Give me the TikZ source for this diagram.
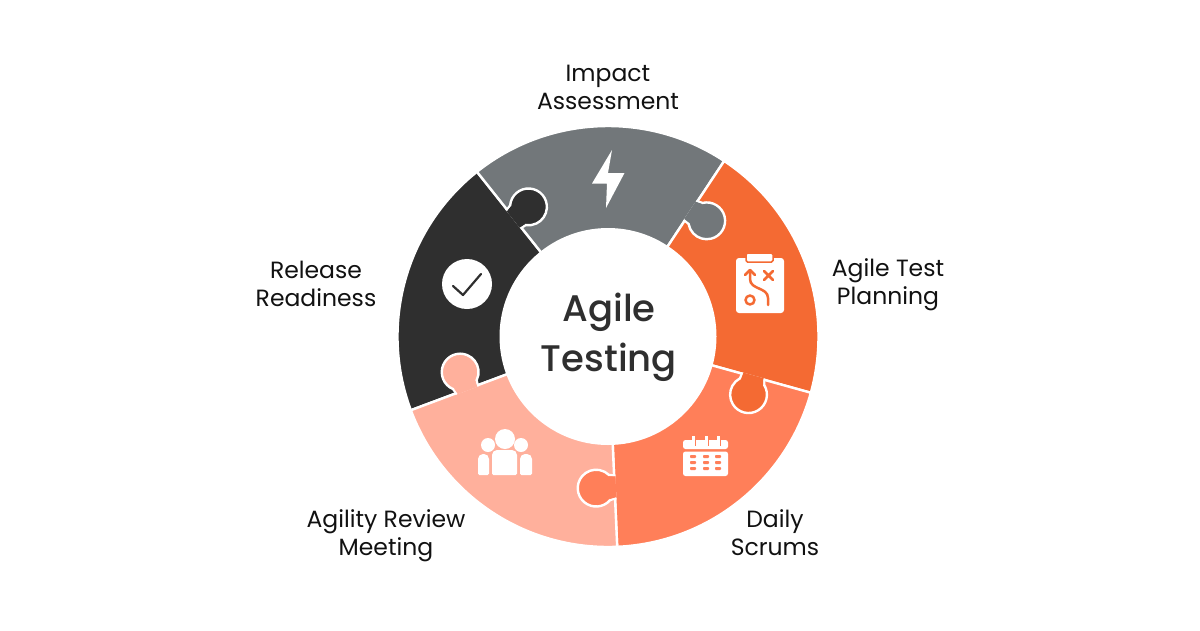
\documentclass[tikz,border=0pt]{standalone}
\usepackage{fontspec}
\setmainfont{Poppins}
\newfontfamily\medfont{Poppins Medium}
\usetikzlibrary{calc}
\definecolor{wheelgray}{HTML}{72777A}
\definecolor{wheelorange}{HTML}{F46A33}
\definecolor{wheelcoral}{HTML}{FF7F59}
\definecolor{wheelsalmon}{HTML}{FFB09C}
\definecolor{wheeldark}{HTML}{2F2F2F}
\definecolor{labeltext}{HTML}{111111}
\tikzset{
    piece/.style={draw=white,line width=2.4pt,line join=miter},
    lbl/.style={font=\fontsize{23.5}{28}\selectfont,align=center,text=labeltext},
    hub/.style={font=\medfont\fontsize{37}{50}\selectfont,align=center,text=wheeldark},
    icon/.style={fill=white,draw=none},
    glyph/.style={wheelorange,line width=2.5pt,line cap=round,line join=round},
}

\begin{document}
\begin{tikzpicture}[x=1pt,y=-1pt]

    \useasboundingbox (0,0) rectangle (1200,630);

    % wheel, angles run from the centre
    \begin{scope}[shift={(608,336.5)},y=1pt]
        \foreach \a/\col in {128.5/wheeldark,56.5/wheelgray,-15.5/wheelorange,-87.5/wheelcoral,-159.5/wheelsalmon} {
        \draw[piece,fill=\col] (0,0)--(\a:210.5) arc[start angle=\a,delta angle=72,radius=210.5]--cycle;}

        \foreach \a/\col in {128.5/wheeldark,56.5/wheelgray,-15.5/wheelorange,-87.5/wheelcoral,-159.5/wheelsalmon} {
        \begin{scope}[rotate=\a]
            \draw[piece,fill=\col] (161.8,1.2)--(163.5,-5)
                arc[start angle=47,end angle=-227,radius=18.4]--(139.2,1.2);
            \fill[\col] (140.2,1.3)--(160.8,1.3)--(162.3,-5)--(139.7,-5)--cycle;
        \end{scope}}

        \fill[white] (0,0) circle[radius=108.5];
    \end{scope}

    % bolt
    \fill[icon] (612,150)--(592,183.5)--(607,183.5)--(606,208)--(624.5,173)--(608,173)--cycle;

    % check
    \fill[icon] (467,284) circle[radius=25];
    \draw[wheeldark,line width=2.2pt,line cap=round,line join=round] (453,286)--(463,295)--(481,274);

    % clipboard
    \fill[icon,rounded corners=3pt] (736,258) rectangle (784,313);
    \draw[icon,draw=wheelorange,line width=1.5pt,rounded corners=1.5pt] (746,253) rectangle (773,262);
    \draw[glyph] (768,305)--(768,298)..controls (768,287) and (750,290) .. (750,279)--(750,270);
    \draw[glyph] (745,275)--(750,270)--(755,275);
    \draw[glyph] (764,271)--(773,280) (773,271)--(764,280);
    \draw[glyph] (750,300) circle[radius=4.5];

    % calendar
    \fill[icon,rounded corners=2.5pt] (683,440) rectangle (728,449);
    \fill[icon,rounded corners=2.5pt] (683,451.5) rectangle (728,476);
    \foreach \x in {693,706,718} {
    \fill[icon] (\x-1.5,436) rectangle (\x+1.5,446);
    \fill[wheelcoral] (\x+1.5,438) rectangle (\x+2.8,446);
    \foreach \y in {456.5,462.5,468.5} {
    \fill[wheelcoral,rounded corners=0.8pt] (\x-3,\y-1.5) rectangle (\x+3,\y+1.5);}}

    % people
    \foreach \x/\y/\r in {505/439/10,488/445/7,521/445/7} {
    \fill[icon] (\x,\y) circle[radius=\r];}
    \foreach \l/\t/\w in {478/454/11,492/450/25,520/454/12} {
    \fill[icon,rounded corners=1.5pt] (\l,475) [rounded corners=5pt] -- (\l,\t) -- (\l+\w,\t) [rounded corners=1.5pt] -- (\l+\w,475) -- cycle;}

    \node[hub] (centre) at (609,337) {Agile\\Testing};
    \node[lbl] (impact) at (608,87) {Impact\\Assessment};
    \node[lbl] (planning) at (888,285) {Agile Test\\Planning};
    \node[lbl] (scrums) at (775,533) {Daily\\Scrums};
    \node[lbl] (review) at (386,536) {Agility Review\\Meeting};
    \node[lbl] (release) at (316,284) {Release\\Readiness};

\end{tikzpicture}
\end{document}
